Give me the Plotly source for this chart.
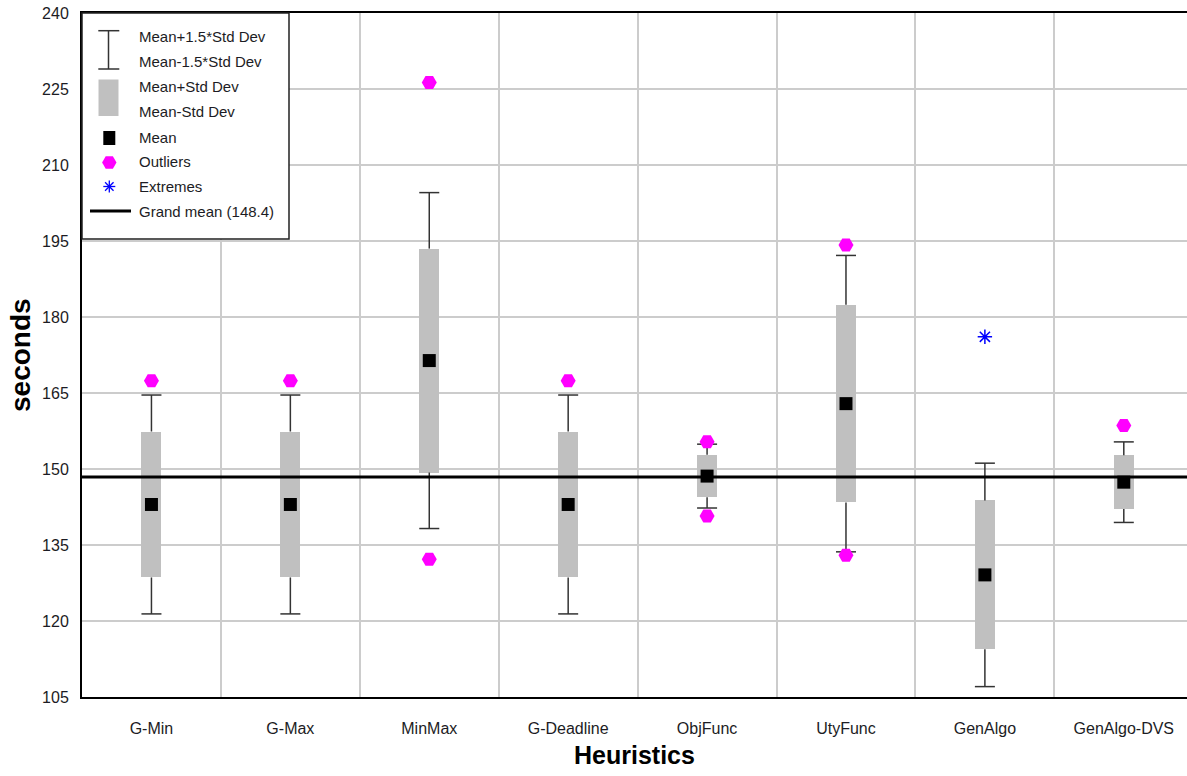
import plotly.graph_objects as go

# ---------------- data ----------------
categories = ["G-Min", "G-Max", "MinMax", "G-Deadline", "ObjFunc", "UtyFunc", "GenAlgo", "GenAlgo-DVS"]
means = [143.0, 143.0, 171.4, 143.0, 148.6, 162.9, 129.1, 147.4]
std_devs = [14.4, 14.4, 22.1, 14.4, 4.2, 19.5, 14.7, 5.3]
outlier_cats = ["G-Min", "G-Max", "MinMax", "MinMax", "G-Deadline", "ObjFunc", "ObjFunc",
                "UtyFunc", "UtyFunc", "GenAlgo-DVS"]
outlier_vals = [167.4, 167.4, 226.3, 132.2, 167.4, 155.4, 140.7, 194.2, 133.0, 158.6]
extreme_cats = ["GenAlgo"]
extreme_vals = [176.1]
grand_mean = 148.4
y_ticks = [105, 120, 135, 150, 165, 180, 195, 210, 225, 240]

# ---------------- styling ----------------
FONT = "Liberation Sans, Arial, sans-serif"
TXT = "#1c1c24"
BOX_W = 0.144
WHISK = "#333333"

idx = list(range(len(categories)))
pos = {c: i for i, c in enumerate(categories)}

fig = go.Figure()

# boxes: mean +/- std dev
fig.add_trace(go.Bar(
    x=idx, y=[2 * s for s in std_devs], base=[m - s for m, s in zip(means, std_devs)],
    width=BOX_W, marker=dict(color="#c0c0c0", line=dict(width=0)),
    showlegend=False, hoverinfo="skip"))

# whiskers: mean +/- 1.5 std dev (stems outside the box, plus caps)
wx, wy = [], []
h = BOX_W / 2
for i, m, s in zip(idx, means, std_devs):
    hi, lo = m + 1.5 * s, m - 1.5 * s
    wx += [i, i, None, i, i, None, i - h, i + h, None, i - h, i + h, None]
    wy += [m + s, hi, None, m - s, lo, None, hi, hi, None, lo, lo, None]
fig.add_trace(go.Scatter(x=wx, y=wy, mode="lines", line=dict(color=WHISK, width=1.5),
                         showlegend=False, hoverinfo="skip"))

# grand mean line
fig.add_trace(go.Scatter(x=[-0.5, len(categories) - 0.5], y=[grand_mean, grand_mean], mode="lines",
                         line=dict(color="black", width=3), showlegend=False, hoverinfo="skip"))

# means
fig.add_trace(go.Scatter(x=idx, y=means, mode="markers",
                         marker=dict(symbol="square", size=13, color="black"), showlegend=False))

# outliers
fig.add_trace(go.Scatter(x=[pos[c] for c in outlier_cats], y=outlier_vals, mode="markers",
                         marker=dict(symbol="hexagon2", size=15, color="#ff00ff", line=dict(width=0)),
                         showlegend=False))

# extremes
fig.add_trace(go.Scatter(x=[pos[c] for c in extreme_cats], y=extreme_vals, mode="markers",
                         marker=dict(symbol="asterisk-open", size=12, color="#0000ff",
                                     line=dict(color="#0000ff", width=1.5)),
                         showlegend=False))

# ---------------- layout ----------------
W, H = 1187, 776
PL, PR, PT, PB = 82, 1187, 13, 697
PW, PH = PR - PL, PB - PT


def fx(px):
    return (px - PL) / PW


def fy(py):
    return (PB - py) / PH


fig.update_layout(
    width=W, height=H,
    margin=dict(l=PL, r=W - PR, t=PT, b=H - PB, pad=0),
    paper_bgcolor="white", plot_bgcolor="white",
    font=dict(family=FONT, color=TXT),
    bargap=0,
    showlegend=False,
    xaxis=dict(
        range=[-0.5, len(categories) - 0.545],
        tickmode="array", tickvals=idx, ticktext=categories,
        tickfont=dict(size=16, color=TXT, family=FONT),
        showgrid=False, zeroline=False, ticks="",
        ticklabelstandoff=16,
        showline=True, linecolor="black", linewidth=2, mirror=True,
        minor=dict(tickmode="array", tickvals=[i + 0.5 for i in idx[:-1]],
                   showgrid=True, gridcolor="#cccccc", gridwidth=1.5, ticks=""),
    ),
    yaxis=dict(
        range=[y_ticks[0], y_ticks[-1]],
        tickmode="array", tickvals=y_ticks, ticktext=[str(t) for t in y_ticks],
        tickfont=dict(size=16, color=TXT, family=FONT),
        showgrid=True, gridcolor="#cccccc", gridwidth=1.5,
        zeroline=False, ticks="", ticklabelstandoff=8,
        showline=True, linecolor="black", linewidth=2, mirror=False,
    ),
)

# axis titles
annotations = [
    dict(text="<b>seconds</b>", xref="paper", yref="paper", x=fx(20), y=fy(355),
         xanchor="center", yanchor="middle", textangle=-90, showarrow=False,
         font=dict(size=28, family=FONT, color="black")),
    dict(text="<b>Heuristics</b>", xref="paper", yref="paper", x=fx(634), y=fy(755),
         xanchor="center", yanchor="middle", showarrow=False,
         font=dict(size=25, family=FONT, color="black")),
]

# ---------------- hand-built legend (top-left, inside the plot) ----------------
shapes = []
shapes.append(dict(type="rect", xref="paper", yref="paper", layer="above",
                   x0=fx(82), x1=fx(289), y0=fy(239), y1=fy(13),
                   fillcolor="white", line=dict(color="#222222", width=1.5)))
# I-beam (whisker) icon
for seg in [((108.5, 30.7), (108.5, 69)), ((98.3, 30.7), (119.3, 30.7)), ((98.3, 69), (119.3, 69))]:
    (ax, ay), (bx, by) = seg
    shapes.append(dict(type="line", xref="paper", yref="paper", layer="above",
                       x0=fx(ax), y0=fy(ay), x1=fx(bx), y1=fy(by),
                       line=dict(color=WHISK, width=1.5)))
# box icon
shapes.append(dict(type="rect", xref="paper", yref="paper", layer="above",
                   x0=fx(98.5), x1=fx(118.5), y0=fy(116), y1=fy(79.5),
                   fillcolor="#c0c0c0", line=dict(width=0)))
# mean icon
shapes.append(dict(type="rect", xref="paper", yref="paper", layer="above",
                   x0=fx(103.3), x1=fx(115.3), y0=fy(145), y1=fy(131),
                   fillcolor="black", line=dict(width=0)))
# outlier icon (hexagon)
cx, cy, r = 109.3, 162.5, 7.2
hexpts = [(cx - r, cy), (cx - r / 2, cy - 0.87 * r), (cx + r / 2, cy - 0.87 * r),
          (cx + r, cy), (cx + r / 2, cy + 0.87 * r), (cx - r / 2, cy + 0.87 * r)]
path = "M " + " L ".join(f"{fx(a):.5f},{fy(b):.5f}" for a, b in hexpts) + " Z"
shapes.append(dict(type="path", xref="paper", yref="paper", layer="above", path=path,
                   fillcolor="#ff00ff", line=dict(width=0)))
# extremes icon (asterisk)
cx, cy, r = 109.3, 186.5, 6
d = r * 0.7071
ast = [((cx, cy - r), (cx, cy + r)), ((cx - r, cy), (cx + r, cy)),
       ((cx - d, cy - d), (cx + d, cy + d)), ((cx - d, cy + d), (cx + d, cy - d))]
for (ax, ay), (bx, by) in ast:
    shapes.append(dict(type="line", xref="paper", yref="paper", layer="above",
                       x0=fx(ax), y0=fy(ay), x1=fx(bx), y1=fy(by),
                       line=dict(color="#0000ff", width=1.3)))
# grand mean icon
shapes.append(dict(type="line", xref="paper", yref="paper", layer="above",
                   x0=fx(90), x1=fx(131), y0=fy(211), y1=fy(211),
                   line=dict(color="black", width=3)))

legend_texts = [
    ("Mean+1.5*Std Dev", 36.5), ("Mean-1.5*Std Dev", 61.5),
    ("Mean+Std Dev", 87), ("Mean-Std Dev", 111.5),
    ("Mean", 137.5), ("Outliers", 162), ("Extremes", 186.5),
    (f"Grand mean ({grand_mean:.1f})", 211),
]
for t, yy in legend_texts:
    annotations.append(dict(text=t, xref="paper", yref="paper", x=fx(137), y=fy(yy),
                            xanchor="left", yanchor="middle", showarrow=False,
                            font=dict(size=15, family=FONT, color=TXT)))

fig.update_layout(shapes=shapes, annotations=annotations)

fig.write_html("out.html", config={"displayModeBar": False},
               post_script="document.body.style.margin='0';")
